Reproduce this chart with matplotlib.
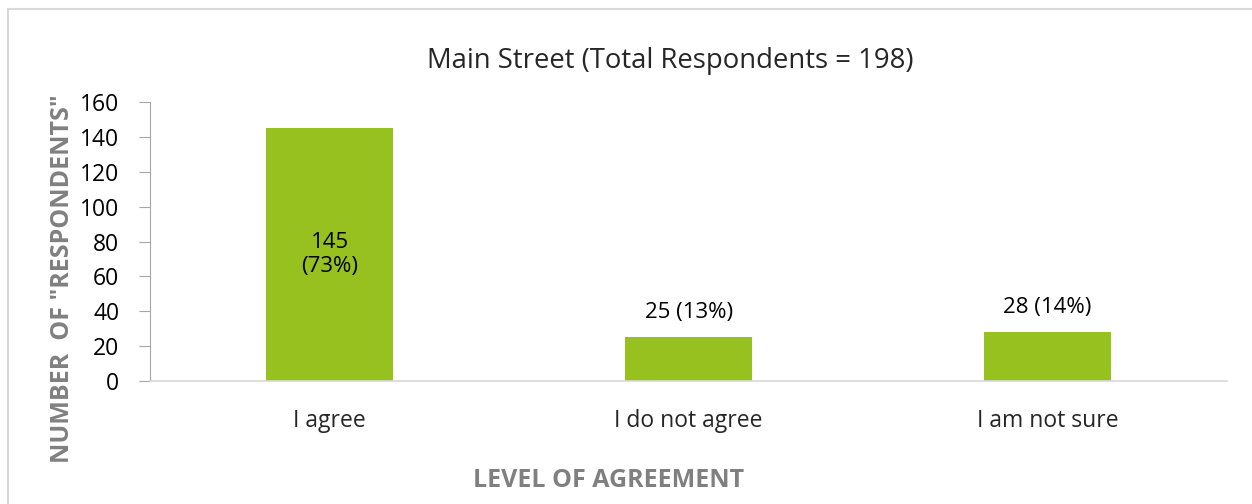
import matplotlib
matplotlib.use("Agg")
import matplotlib.pyplot as plt
from matplotlib.patches import Rectangle

# Survey counts
categories = ["I agree", "I do not agree", "I am not sure"]
counts = [145, 25, 28]
percents = [73, 13, 14]
total = 198

plt.rcParams["font.family"] = ["Open Sans", "DejaVu Sans"]

fig = plt.figure(figsize=(12.52, 5.04), dpi=100)
ax = fig.add_axes([0.1198, 0.244, 0.8604, 0.5536])

x = range(len(categories))
bars = ax.bar(x, counts, width=0.354, color="#97c11f", zorder=2)

ax.set_xlim(-0.5, len(categories) - 0.5)
ax.set_ylim(0, 160)
ax.set_yticks(range(0, 161, 20))
ax.set_xticks(list(x))
ax.set_xticklabels(categories)

for s in ["top", "right"]:
    ax.spines[s].set_visible(False)
ax.spines["left"].set_color("#a6a6a6")
ax.spines["bottom"].set_color("#d9d9d9")
ax.spines["bottom"].set_linewidth(1.2)
ax.tick_params(axis="y", length=8, color="#a6a6a6", labelsize=16.5, pad=14, labelcolor="#000000")
ax.tick_params(axis="x", length=0, labelsize=16.5, pad=20, labelcolor="#262626")

# data labels
for i, (c, p) in enumerate(zip(counts, percents)):
    if c > 100:
        ax.text(i, c / 2, f"{c}\n({p}%)", ha="center", va="center", fontsize=16, color="#000000", linespacing=1.2)
    else:
        ax.text(i, c + 8, f"{c} ({p}%)", ha="center", va="bottom", fontsize=16, color="#000000")

fig.text(0.535, 0.878, f"Main Street (Total Respondents = {total})", ha="center", va="center",
         fontsize=19.8, color="#262626")
fig.text(0.05, 0.448, 'NUMBER  OF "RESPONDENTS"', rotation=90, ha="center", va="center",
         fontsize=18, fontweight="bold", color="#808080")
fig.text(0.486, 0.046, "LEVEL OF AGREEMENT", ha="center", va="center",
         fontsize=18, fontweight="bold", color="#808080")

# chart frame
fig.patches.append(Rectangle((8 / 1252, -0.01), 1.0, 1 - 9 / 504 + 0.01, transform=fig.transFigure,
                             fill=False, edgecolor="#d9d9d9", linewidth=1.5))

fig.savefig("out.png", dpi=100)
